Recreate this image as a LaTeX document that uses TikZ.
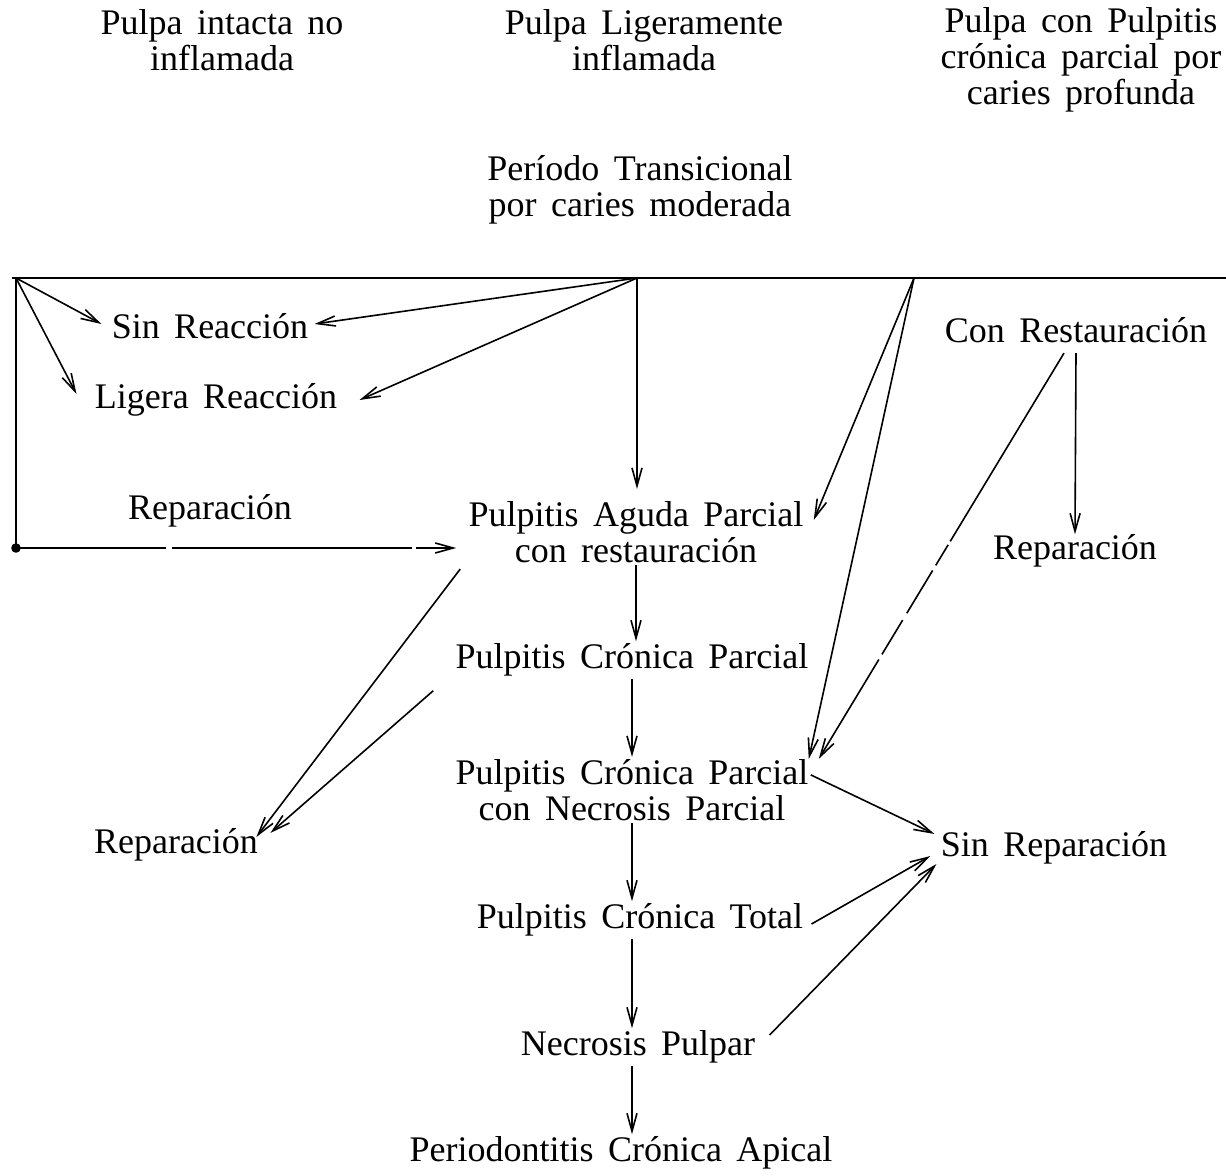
\documentclass[tikz,border=0pt]{standalone}
\usepackage{fontspec}
\setmainfont{Liberation Serif}[WordSpace=1.6]
\usetikzlibrary{arrows.meta}
\begin{document}
\begin{tikzpicture}[x=0.5pt,y=-0.5pt,
  lbl/.style={font=\fontsize{18}{18}\selectfont, inner sep=1pt, align=center},
  arr/.style={-{Straight Barb[length=9pt,width=5pt]}, line width=0.8pt},
  ln/.style={line width=0.8pt}]
\useasboundingbox (0,0) rectangle (1226,1176);
% top labels
\node[lbl] (t1) at (222,40) {Pulpa intacta no\\inflamada};
\node[lbl] (t2) at (644,40) {Pulpa Ligeramente\\inflamada};
\node[lbl] (t3) at (1081,60) {Pulpa con Pulpitis\\crónica parcial por\\caries profunda};
\node[lbl] (t4) at (640,190) {Período Transicional\\por caries moderada};
% nodes
\node[lbl] (sr) at (210,326) {Sin Reacción};
\node[lbl] (lr) at (216,400) {Ligera Reacción};
\node[lbl] (repL) at (210,511) {Reparación};
\node[lbl] (pa) at (636,532) {Pulpitis Aguda Parcial\\con restauración};
\node[lbl] (cr) at (1076,330) {Con Restauración};
\node[lbl] (repR) at (1075,551) {Reparación};
\node[lbl] (pcp1) at (632,660) {Pulpitis Crónica Parcial};
\node[lbl] (pcp2) at (632,790) {Pulpitis Crónica Parcial\\con Necrosis Parcial};
\node[lbl] (repB) at (176,845) {Reparación};
\node[lbl] (srep) at (1054,848) {Sin Reparación};
\node[lbl] (pct) at (640,920) {Pulpitis Crónica Total};
\node[lbl] (np) at (638,1047) {Necrosis Pulpar};
\node[lbl] (pca) at (621,1153) {Periodontitis Crónica Apical};
% coordinates on the top line
\coordinate (L) at (16,278);
\coordinate (M) at (637,278);
\coordinate (R) at (914,278);
\coordinate (E) at (1226,278);
\coordinate (BL) at (16,548);
% lines
\draw[ln] ([xshift=-2pt]L) -- (E);
\draw[ln] (L) -- (BL);
\fill (BL) circle (2.4pt);
\draw[arr, dash pattern=on 75pt off 3pt on 120pt off 2pt] (BL) -- ([xshift=-5pt,yshift=-8pt]pa.west);
\draw[arr] (L) -- ([xshift=-4pt,yshift=1pt]sr.west);
\draw[arr] (L) -- ([xshift=-8pt,yshift=3pt]lr.west);
\draw[arr] (M) -- ([xshift=2pt,yshift=1pt]sr.east);
\draw[arr] (M) -- ([xshift=10pt]lr.east);
\draw[arr] (M) -- ([yshift=5pt]pa.north -| M);
\draw[arr] (R) -- ([xshift=4pt,yshift=6pt]pa.east);
\draw[arr] (R) -- ([xshift=-1pt,yshift=-1pt]pcp2.north east);
\draw[arr, dash pattern=on 110pt off 2pt on 12pt off 3pt on 25pt off 4pt on 20pt off 3pt] ([xshift=-6pt,yshift=-4pt]cr.south) -- ([xshift=4pt,yshift=-1pt]pcp2.north east);
\draw[arr] ([yshift=-4pt]cr.south) -- ([yshift=-1pt]repR.north);
\draw[arr] ([xshift=-3pt,yshift=-2pt]pa.south west) -- ([xshift=-2pt,yshift=4pt]repB.east);
\draw[arr] ([xshift=-10pt,yshift=-6pt]pcp1.south west) -- ([xshift=5pt,yshift=6pt]repB.east);
\draw[arr] (pa.south) -- (pa.south |- pcp1.north);
\draw[arr] (pcp1.south) -- (pcp1.south |- pcp2.north);
\draw[arr] (pcp2.south) -- (pcp2.south |- pct.north);
\draw[arr] (pcp2.south |- pct.south) -- (pcp2.south |- np.north);
\draw[arr] (pcp2.south |- np.south) -- (pcp2.south |- pca.north);
\draw[arr] ([yshift=-9pt]pcp2.north east) -- ([xshift=-2pt,yshift=7pt]srep.west);
\draw[arr] ([xshift=3pt,yshift=-2pt]pct.east) -- ([xshift=-4pt,yshift=-4pt]srep.west);
\draw[arr] ([xshift=6pt,yshift=6pt]np.east) -- ([xshift=-1pt,yshift=-8pt]srep.west);
\end{tikzpicture}
\end{document}
